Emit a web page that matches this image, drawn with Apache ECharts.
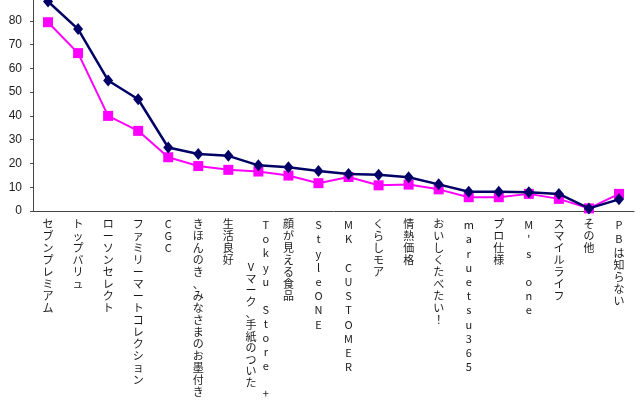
<!DOCTYPE html>
<html><head><meta charset="utf-8">
<script src="https://cdn.jsdelivr.net/npm/echarts@6/dist/echarts.min.js"></script>
<style>html,body{margin:0;padding:0;background:#fff}#c{width:640px;height:400px}</style>
</head><body><div id="c"></div>
<script>
const categories = ['セブンプレミアム','トップバリュ','ローソンセレクト','ファミリーマートコレクション','CGC','きほんのき、みなさまのお墨付き','生活良好','Tokyu Store +','顔が見える食品','StyleONE','MK CUSTOMER','くらしモア','情熱価格','おいしくたべたい！','maruetsu365','プロ仕様',"M's one",'スマイルライフ','その他','PBは知らない'];
const secondColumn = ['','','','','','','','Vマーク、手紙のついた','','','','','','','','','','','',''];
const seriesA = [88.1,76.5,54.9,47.0,26.7,24.0,23.2,19.2,18.4,16.8,15.6,15.2,14.2,11.2,8.1,8.1,7.9,7.2,1.1,4.9];
const seriesB = [79.4,66.4,40.0,33.7,22.6,18.9,17.3,16.6,14.9,11.7,14.3,10.8,11.1,9.1,5.8,5.8,7.2,5.1,1.1,7.2];
const yTicks = [0,10,20,30,40,50,60,70,80,90];

const FONT = '"Noto Sans CJK JP", sans-serif';
function vert(s, idx, mode) {
  const chars = Array.from(s);
  return chars.map(c => {
    let st;
    if (mode === 't') st = 't';
    else if (mode === 'v') st = 'v';
    else st = (/[\x20-\x7e]/.test(c) && s.length > 3) ? 'l' : 'a';
    return '{' + st + '|' + c + '}';
  }).join('\n');
}
const baseRich = {
  a: {lineHeight: 12, fontSize: 11, color: '#1a1a1a', fontFamily: FONT},
  l: {lineHeight: 14.2, fontSize: 11, color: '#1a1a1a', fontFamily: FONT},
  t: {lineHeight: 14.1, fontSize: 11, color: '#1a1a1a', fontFamily: FONT, padding: [0,0,0,15]},
  v: {lineHeight: 11.6, fontSize: 11, color: '#1a1a1a', fontFamily: FONT, padding: [0,15,0,0]}
};

const chart = echarts.init(document.getElementById('c'));
chart.setOption({
  animation: false,
  backgroundColor: '#fff',
  grid: {left: 33, right: 6, top: -3, bottom: 189, containLabel: false, outerBoundsMode: 'none'},
  xAxis: [{
    type: 'category', data: categories, boundaryGap: true,
    axisLine: {lineStyle: {color: '#444', width: 1}},
    axisTick: {inside: true, length: 3, lineStyle: {color: '#444'}},
    axisLabel: {interval: 0, margin: 7, verticalAlign: 'top',
      formatter: (v, i) => vert(v, i, i === 7 ? 't' : ''), rich: baseRich}
  }, {
    type: 'category', data: categories, boundaryGap: true, position: 'bottom', offset: 0,
    axisLine: {show: false}, axisTick: {show: false},
    axisLabel: {interval: 0, margin: 50, verticalAlign: 'top',
      formatter: (v, i) => secondColumn[i] ? vert(secondColumn[i], i, 'v') : '', rich: baseRich}
  }],
  yAxis: {
    type: 'value', min: 0, max: 90, interval: 10,
    splitLine: {show: false},
    axisLine: {show: true, lineStyle: {color: '#444', width: 1}},
    axisTick: {show: true, length: 3, lineStyle: {color: '#444'}},
    axisLabel: {margin: 11, fontSize: 12, color: '#222', fontFamily: 'Liberation Sans, Arial, sans-serif',
      formatter: v => yTicks.includes(v) ? String(v) : ''}
  },
  series: [{
    type: 'line', data: seriesA, symbol: 'diamond', symbolSize: [10, 12],
    lineStyle: {color: '#000066', width: 2.5}, itemStyle: {color: '#000066'}, z: 3
  }, {
    type: 'line', data: seriesB, symbol: 'rect', symbolSize: 10,
    lineStyle: {color: '#ff00ff', width: 2}, itemStyle: {color: '#ff00ff'}, z: 2
  }]
});
</script></body></html>
